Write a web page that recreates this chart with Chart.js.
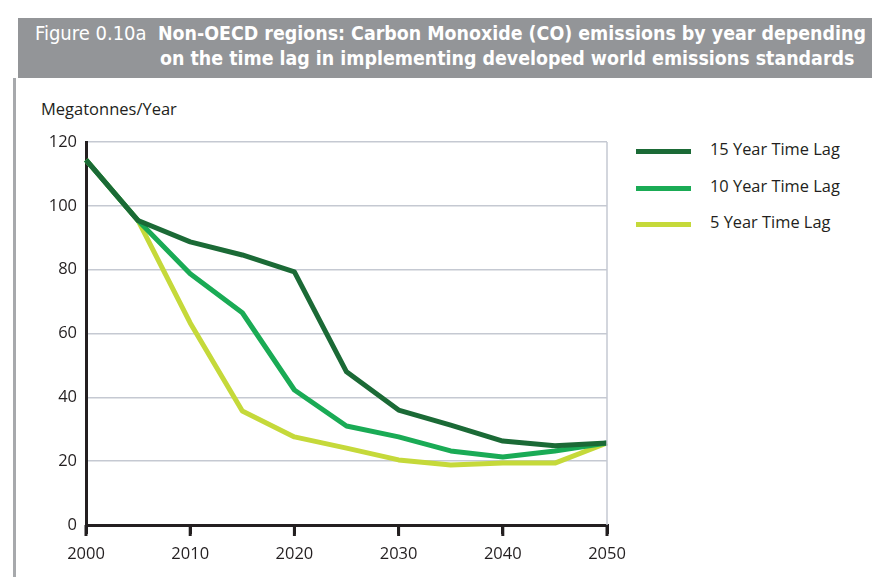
<!DOCTYPE html>
<html>
<head>
<meta charset="utf-8">
<script src="https://cdn.jsdelivr.net/npm/chart.js@4"></script>
<style>
  body { margin: 0; background: #fff; width: 872px; height: 577px; overflow: hidden; position: relative; font-family: "Open Sans", sans-serif; }
  #banner { position: absolute; left: 18px; top: 18px; width: 854px; height: 60px; background: #939598; color: #fff; font-family: "DejaVu Sans Condensed", sans-serif; font-size: 19.4px; }
  #banner .fig { position: absolute; left: 17px; top: 3px; font-weight: normal; font-size: 20px; }
  #banner .l1 { position: absolute; left: 140px; top: 4px; font-weight: bold; white-space: nowrap; }
  #banner .l2 { position: absolute; left: 142px; top: 29px; font-weight: bold; white-space: nowrap; }
  #side { position: absolute; left: 13px; top: 78px; width: 3px; height: 499px; background: #a7a9ac; }
  #unit { position: absolute; left: 41px; top: 97px; font-size: 16.5px; color: #231f20; }
  #wrap { position: absolute; left: 30px; top: 130px; width: 600px; height: 440px; }
  .leg { position: absolute; left: 636px; font-size: 16.4px; color: #231f20; }
  .leg span { position: absolute; left: 0; width: 55px; height: 5px; }
  .leg b { position: absolute; left: 74px; top: -12px; font-weight: normal; white-space: nowrap; }
</style>
</head>
<body>
<div id="banner">
  <div class="fig">Figure 0.10a</div>
  <div class="l1">Non-OECD regions: Carbon Monoxide (CO) emissions by year depending</div>
  <div class="l2">on the time lag in implementing developed world emissions standards</div>
</div>
<div id="side"></div>
<div id="unit">Megatonnes/Year</div>
<div id="wrap"><canvas id="myChart" width="600" height="440"></canvas></div>
<div id="legend"></div>
<script>
const years = [2000, 2005, 2010, 2015, 2020, 2025, 2030, 2035, 2040, 2045, 2050];
const lag15 = [114.4, 95.4, 88.7, 84.6, 79.3, 48, 36, 31.3, 26.3, 24.8, 25.7];
const lag10 = [114.4, 95.4, 78.7, 66.5, 42.3, 31, 27.6, 23.2, 21.3, 23.2, 25.7];
const lag5 = [114.4, 95.4, 63.3, 35.7, 27.6, 24.1, 20.4, 18.8, 19.4, 19.4, 25.7];
const seriesNames = ['15 Year Time Lag', '10 Year Time Lag', '5 Year Time Lag'];
const seriesColors = ['#1b6a36', '#1aab55', '#c5d93a'];
const yTicks = [0, 20, 40, 60, 80, 100, 120];
const xTicks = [2000, 2010, 2020, 2030, 2040, 2050];

document.addEventListener('DOMContentLoaded', () => {
  const toPoints = vals => vals.map((v, i) => ({ x: years[i], y: v }));
  const allSeries = [lag15, lag10, lag5];

  // legend on the right
  const legend = document.getElementById('legend');
  seriesNames.forEach((name, i) => {
    const row = document.createElement('div');
    row.className = 'leg';
    row.style.top = (149 + i * 36.5) + 'px';
    row.innerHTML = '<span style="background:' + seriesColors[i] + '"></span><b>' + name + '</b>';
    legend.appendChild(row);
  });

  // thin grey line on the right side of the plot, plus the x tick marks
  const frame = {
    id: 'frame',
    afterDraw(chart) {
      const { ctx, chartArea } = chart;
      const xs = chart.scales.x;
      ctx.save();
      ctx.strokeStyle = '#c5c9d2';
      ctx.lineWidth = 1.5;
      ctx.beginPath();
      ctx.moveTo(chartArea.right, chartArea.top);
      ctx.lineTo(chartArea.right, chartArea.bottom);
      ctx.stroke();
      ctx.strokeStyle = '#231f20';
      ctx.lineWidth = 3;
      xTicks.forEach(v => {
        const px = xs.getPixelForValue(v);
        ctx.beginPath();
        ctx.moveTo(px, chartArea.bottom);
        ctx.lineTo(px, chartArea.bottom + 11);
        ctx.stroke();
      });
      ctx.restore();
    }
  };

  const ctx = document.getElementById('myChart').getContext('2d');
  const myChart = new Chart(ctx, {
    type: 'line',
    data: {
      datasets: allSeries.map((vals, i) => ({
        label: seriesNames[i],
        data: toPoints(vals),
        borderColor: seriesColors[i],
        borderWidth: 5,
        pointRadius: 0,
        tension: 0,
        borderJoinStyle: 'round',
        clip: false
      }))
    },
    options: {
      responsive: false,
      animation: false,
      layout: { padding: { top: 12, right: 23 } },
      plugins: { legend: { display: false }, tooltip: { enabled: false } },
      scales: {
        x: {
          type: 'linear',
          min: 2000,
          max: 2050,
          afterBuildTicks: axis => { axis.ticks = xTicks.map(v => ({ value: v })); },
          afterFit: axis => { axis.height = 45; axis.paddingLeft = 0; axis.paddingRight = 0; },
          border: { color: '#231f20', width: 3 },
          grid: { drawOnChartArea: false, color: '#231f20', lineWidth: 3, tickLength: 9 },
          ticks: { color: '#231f20', font: { family: 'Open Sans', size: 16.5 }, padding: 10, maxRotation: 0, callback: v => String(v) }
        },
        y: {
          min: 0,
          max: 120,
          afterBuildTicks: axis => { axis.ticks = yTicks.map(v => ({ value: v })); },
          afterFit: axis => { axis.width = 56; axis.paddingTop = 0; axis.paddingBottom = 0; },
          border: { color: '#231f20', width: 3 },
          grid: { color: '#c5c9d2', lineWidth: 1.5, drawTicks: false },
          ticks: { color: '#231f20', font: { family: 'Open Sans', size: 16.5 }, padding: 9 }
        }
      }
    },
    plugins: [frame]
  });
});
</script>
</body>
</html>
